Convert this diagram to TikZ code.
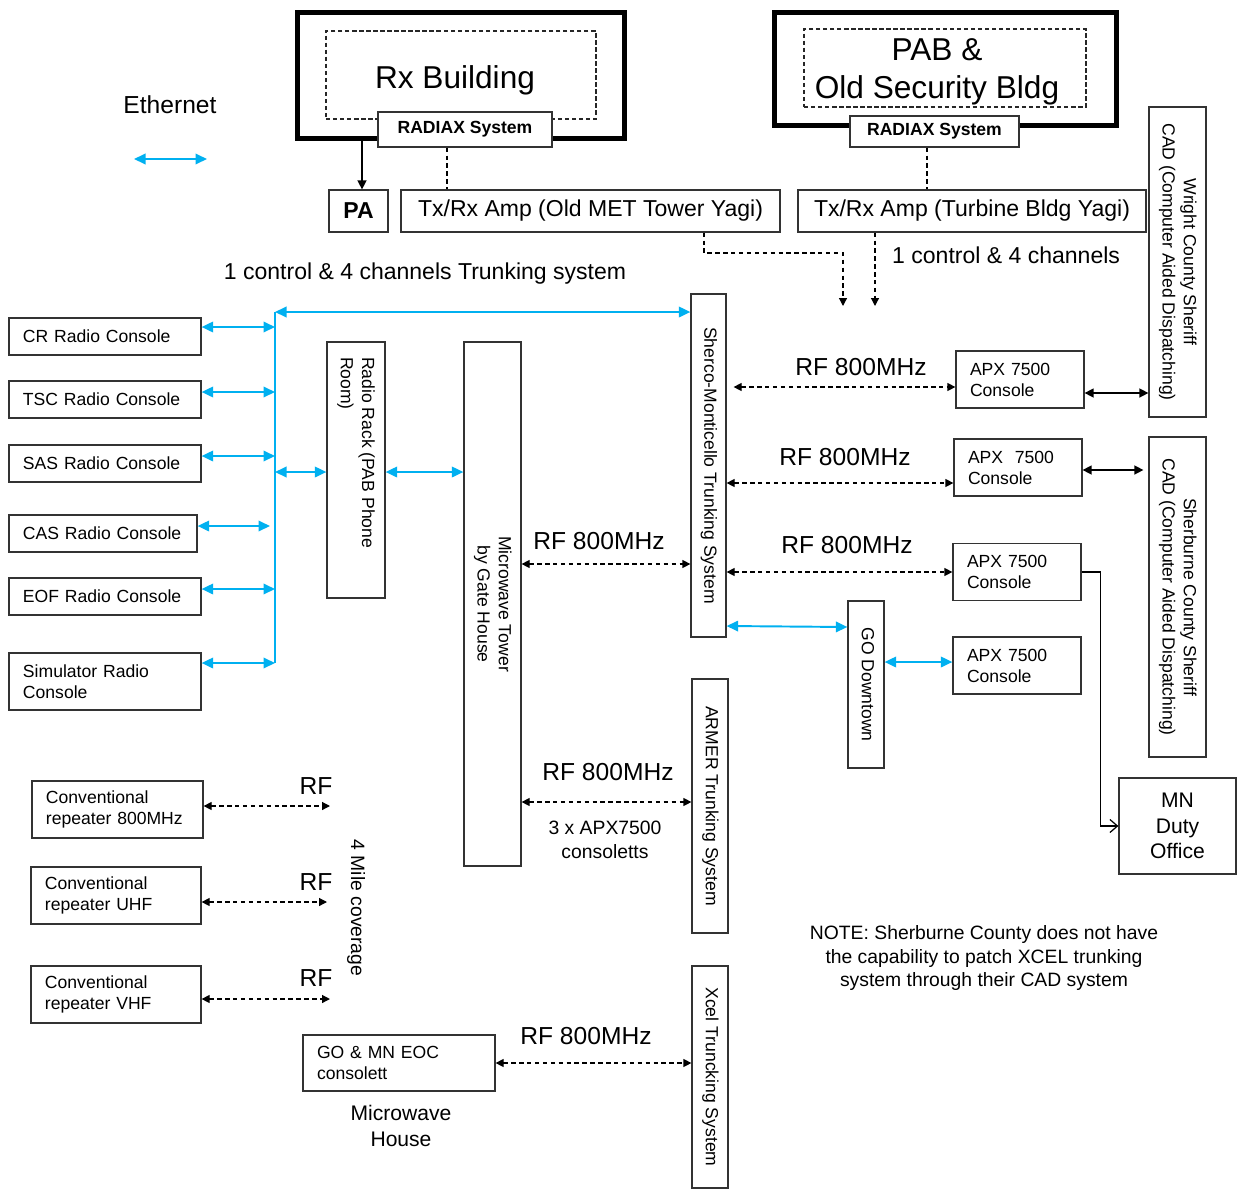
\documentclass[tikz,border=0pt]{standalone}
\usepackage{fontspec}
\setmainfont{Liberation Sans}
\usepackage{graphicx}
\usetikzlibrary{arrows.meta,calc}
\definecolor{ethblue}{RGB}{0,176,240}
\newcommand{\vlab}[1]{\rotatebox{-90}{\begin{tabular}{@{}c@{}}#1\end{tabular}}}

\tikzset{
  box/.style={draw=black!80, line width=0.7pt, inner sep=0pt, fill=white},
  bldg/.style={draw=black, line width=2.6pt, inner sep=0pt},
  inbox/.style={draw=black!85, line width=0.6pt, dash pattern=on 2.5pt off 1.5pt, inner sep=0pt},
  f10/.style={font=\fontsize{10}{12}\selectfont},
  f11/.style={font=\fontsize{11}{13.4}\selectfont},
  f12/.style={font=\fontsize{12}{14.4}\selectfont},
  f13/.style={font=\fontsize{13.1}{15.5}\selectfont},
  f14/.style={font=\fontsize{14}{17}\selectfont},
  f18/.style={font=\fontsize{18}{21.5}\selectfont},
  con/.style={box, f10, align=left, minimum width=3.84cm, minimum height=0.74cm, text width=3.28cm},
  apx/.style={box, f10, align=left, minimum width=2.56cm, minimum height=1.14cm, text width=2cm},
  conv/.style={box, f10, align=left, minimum width=3.42cm, minimum height=1.14cm, text width=2.86cm},
  eth/.style={ethblue, line width=1.1pt, {Triangle[length=2.3mm,width=2.1mm]}-{Triangle[length=2.3mm,width=2.1mm]}},
  rflink/.style={black, line width=0.7pt, dash pattern=on 2.5pt off 2pt, {Triangle[length=1.6mm,width=1.6mm]}-{Triangle[length=1.6mm,width=1.6mm]}},
  dline/.style={black, line width=0.7pt, dash pattern=on 2.5pt off 2pt},
  solid2/.style={black, line width=0.8pt, {Triangle[length=1.8mm,width=1.8mm]}-{Triangle[length=1.8mm,width=1.8mm]}}
}

\begin{document}
\begin{tikzpicture}[x=0.2mm, y=-0.2mm]
\useasboundingbox (0,0) rectangle (1238,1189);

\node[bldg, minimum width=6.54cm, minimum height=2.52cm] (rxout) at (461,75.5) {};
\node[inbox, minimum width=5.4cm, minimum height=1.76cm] (rxin) at (461,75) {};
\node[f18] (rxtext) at (455,80) {Rx Building};
\node[box, minimum width=3.48cm, minimum height=0.7cm, font=\fontsize{10}{12}\selectfont\bfseries] (rxrad) at (465,129.5) {RADIAX System};
\node[bldg, minimum width=6.84cm, minimum height=2.26cm] (pabout) at (945.5,69) {};
\node[inbox, minimum width=5.64cm, minimum height=1.56cm] (pabin) at (945,68) {};
\node[f18, align=center] (pabtext) at (937,72) {PAB \&\\Old Security Bldg};
\node[box, minimum width=3.38cm, minimum height=0.62cm, font=\fontsize{10}{12}\selectfont\bfseries] (pabrad) at (934.5,131.5) {RADIAX System};

\node[box, minimum width=1.18cm, minimum height=0.84cm, font=\fontsize{13.1}{15.5}\selectfont\bfseries] (pa) at (358.5,211) {PA};
\node[box, minimum width=7.58cm, minimum height=0.84cm, f13] (ampmet) at (590.5,211) {Tx/Rx Amp (Old MET Tower Yagi)};
\node[box, minimum width=6.96cm, minimum height=0.84cm, f13] (ampturb) at (972,211) {Tx/Rx Amp (Turbine Bldg Yagi)};

\node[f14] (ethlab) at (170,105) {Ethernet};
\coordinate (leg1) at (134,159);
\coordinate (leg2) at (207,159);
\draw[eth] (leg1) -- (leg2);

\draw[black, line width=0.8pt, -{Triangle[length=1.8mm,width=1.8mm]}] (rxout.south -| 362,0) -- (pa.north -| 362,0);
\draw[dline] (rxrad.south -| 447,0) -- (ampmet.north -| 447,0);
\draw[dline] (pabrad.south -| 927,0) -- (ampturb.north -| 927,0);
\coordinate (rfin1) at (843,306);
\coordinate (rfin2) at (875,306);
\draw[dline, -{Triangle[length=1.6mm,width=1.6mm]}] (ampmet.south -| 704,0) -- (704,253) -- (843,253) -- (rfin1);
\draw[dline, -{Triangle[length=1.6mm,width=1.6mm]}] (ampturb.south -| rfin2) -- (rfin2);

\node[f13] (trunklab) at (425,274) {1 control \& 4 channels Trunking system};
\node[f13, anchor=west] (chanlab) at (886,255) {1 control \& 4 channels};

\node[box, minimum width=1.14cm, minimum height=6.2cm, f10] (wright) at (1177.5,262) {\vlab{Wright County Sheriff\\CAD (Computer Aided Dispatching)}};
\node[box, minimum width=1.14cm, minimum height=6.4cm, f10] (sherb) at (1177.5,597) {\vlab{Sherburne County Sheriff\\CAD (Computer Aided Dispatching)}};

\node[con] (cr) at (105,336.5) {CR Radio Console};
\node[con] (tsc) at (105,399.5) {TSC Radio Console};
\node[con] (sas) at (105,463.5) {SAS Radio Console};
\node[con, minimum width=3.76cm, text width=3.2cm] (cas) at (103,533.5) {CAS Radio Console};
\node[con] (eof) at (105,596.5) {EOF Radio Console};
\node[con, minimum height=1.14cm] (sim) at (105,681.5) {Simulator Radio\\Console};

\node[box, minimum width=1.16cm, minimum height=5.12cm, f10] (rack) at (356,470) {\rotatebox{-90}{\parbox{4.52cm}{\raggedright Radio Rack (PAB Phone\\Room)}}};
\node[box, minimum width=1.14cm, minimum height=10.48cm, f10] (mwtower) at (492.5,604) {\vlab{Microwave Tower\\by Gate House}};
\node[box, minimum width=0.7cm, minimum height=6.86cm, f10] (sherco) at (708.5,465.5) {\vlab{Sherco-Monticello Trunking System}};
\node[box, minimum width=0.72cm, minimum height=5.08cm, f10] (armer) at (710,806) {\vlab{ARMER Trunking System}};
\node[box, minimum width=0.72cm, minimum height=4.44cm, f10] (xcel) at (710,1077) {\vlab{Xcel Truncking System}};
\node[box, minimum width=0.72cm, minimum height=3.34cm, f10] (godown) at (866,684.5) {\vlab{GO Downtown}};

\node[apx] (apxa) at (1020,379.5) {APX 7500\\Console};
\node[apx] (apxb) at (1018,467.5) {APX\ \ 7500\\Console};
\node[apx] (apxc) at (1017,572) {APX 7500\\Console};
\node[apx] (apxd) at (1017,665.5) {APX 7500\\Console};
\node[box, minimum width=2.34cm, minimum height=1.92cm, f12, align=center] (mnduty) at (1177.5,826) {MN\\Duty\\Office};

\node[conv] (convhi) at (117.5,809.5) {Conventional\\repeater 800MHz};
\node[conv, minimum width=3.4cm, text width=2.84cm] (convuhf) at (116,895.5) {Conventional\\repeater UHF};
\node[conv, minimum width=3.4cm, text width=2.84cm] (convvhf) at (116,994.5) {Conventional\\repeater VHF};
\node[con, minimum height=1.12cm] (goeoc) at (399,1063) {GO \& MN EOC\\consolett};

\coordinate (bustop) at (275,312);
\coordinate (busbot) at (275,663);
\draw[ethblue, line width=1.1pt] (bustop) -- (busbot);
\draw[eth] (bustop) -- (sherco.west |- bustop);
\draw[eth] (cr.east |- 0,327) -- (bustop |- 0,327);
\draw[eth] (tsc.east |- 0,392) -- (bustop |- 0,392);
\draw[eth] (sas.east |- 0,456) -- (bustop |- 0,456);
\draw[eth, shorten >=0.1cm] (cas.east |- 0,526) -- (bustop |- 0,526);
\draw[eth] (eof.east |- 0,589) -- (bustop |- 0,589);
\draw[eth] (sim.east |- busbot) -- (busbot);
\draw[eth] (bustop |- 0,472) -- (rack.west |- 0,472);
\draw[eth] (rack.east |- 0,472) -- (mwtower.west |- 0,472);
\draw[eth] (sherco.east |- 0,626) -- (godown.west |- 0,627);
\draw[eth] (godown.east |- 0,662) -- (apxd.west |- 0,662);

\draw[rflink, shorten <=0.14cm] (sherco.east |- 0,387) -- (apxa.west |- 0,387);
\draw[rflink] (sherco.east |- 0,483) -- (apxb.west |- 0,483);
\draw[rflink] (sherco.east |- apxc.west) -- (apxc.west);
\draw[rflink] (mwtower.east |- 0,564) -- (sherco.west |- 0,564);
\draw[rflink] (mwtower.east |- 0,802) -- (armer.west |- 0,802);
\draw[rflink] (goeoc.east) -- (xcel.west |- goeoc.east);
\node[f14] (rflaba) at (861,367) {RF 800MHz};
\node[f14] (rflabb) at (845,457) {RF 800MHz};
\node[f14] (rflabc) at (847,545) {RF 800MHz};
\node[f14] (rflabd) at (599,541) {RF 800MHz};
\node[f14] (rflabe) at (608,772) {RF 800MHz};
\node[f14] (rflabf) at (586,1036) {RF 800MHz};
\node[f11, align=center] (consolett) at (605,840) {3 x APX7500\\consoletts};

\draw[solid2] (apxa.east |- 0,393) -- (wright.west |- 0,393);
\draw[solid2, shorten >=0.1cm] (apxb.east |- 0,470) -- (sherb.west |- 0,470);
\draw[black, line width=0.7pt, -{Straight Barb[length=1.5mm,width=2.6mm]}] (apxc.east) -- ++(19,0) |- (mnduty.west);

\coordinate (rfa) at (330,806);
\coordinate (rfb) at (327,902);
\coordinate (rfc) at (330,999);
\draw[rflink] (convhi.east |- rfa) -- (rfa);
\draw[rflink] (convuhf.east |- rfb) -- (rfb);
\draw[rflink] (convvhf.east |- rfc) -- (rfc);
\node[f14] (rfa lab) at (316,786) {RF};
\node[f14] (rfb lab) at (316,882) {RF};
\node[f14] (rfc lab) at (316,978) {RF};
\node[f11, rotate=-90] (milelab) at (356,908) {4 Mile coverage};

\node[f12, align=center] (mwhouse) at (401,1126) {Microwave\\House};
\node[f11, align=center] (note) at (984,958) {NOTE: Sherburne County does not have\\the capability to patch XCEL trunking\\system through their CAD system};
\end{tikzpicture}
\end{document}
